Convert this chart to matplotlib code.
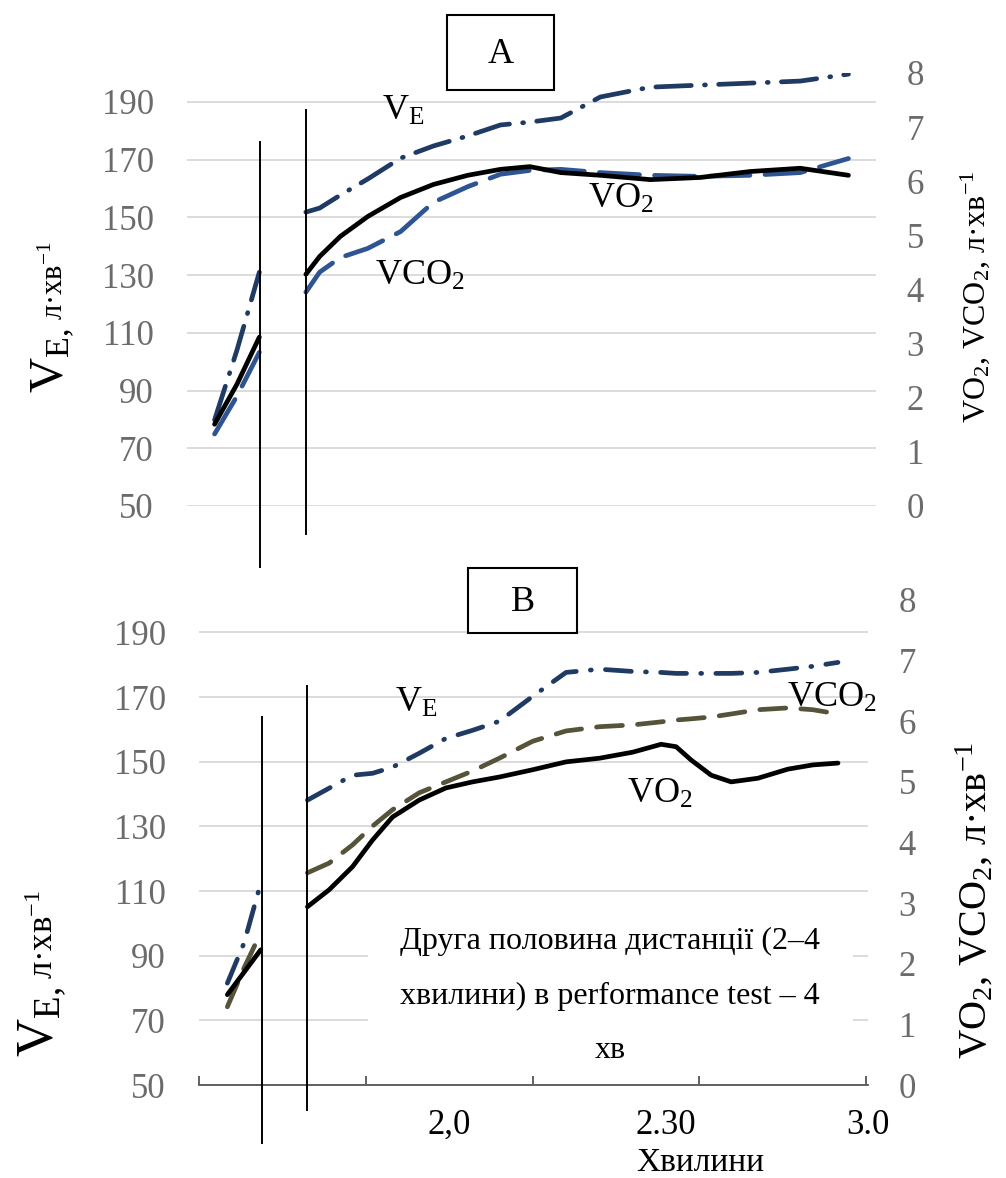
import matplotlib
matplotlib.use('Agg')
import matplotlib.pyplot as plt
from matplotlib.lines import Line2D
from matplotlib.patches import Rectangle
import numpy as np

plt.rcParams['font.family'] = ['Liberation Serif', 'DejaVu Serif']
plt.rcParams['mathtext.fontset'] = 'custom'
plt.rcParams['mathtext.rm'] = 'Liberation Serif'

# ---- data: x in axis category units (0..4), before and after the axis break ----
# panel A
a_t1 = [0.16, 0.29, 0.42]
a_ve1 = [79.8, 104.0, 131.0]
a_vo1 = [1.51, 2.25, 3.12]
a_vco1 = [1.33, 2.03, 2.84]
a_t2 = [0.69, 0.77, 0.89, 1.05, 1.24, 1.43, 1.63, 1.82, 1.99, 2.17, 2.40, 2.69, 2.98, 3.27, 3.56, 3.84]
a_ve2 = [151.8, 153.2, 157.7, 163.3, 170.5, 174.7, 178.2, 182.0, 183.0, 184.4, 191.7, 195.1, 195.8, 196.5, 197.2, 199.6]
a_vo2 = [4.28, 4.61, 4.98, 5.35, 5.70, 5.94, 6.11, 6.22, 6.27, 6.16, 6.11, 6.03, 6.07, 6.18, 6.24, 6.11]
a_vco2 = [3.95, 4.32, 4.59, 4.76, 5.07, 5.61, 5.90, 6.13, 6.20, 6.22, 6.16, 6.11, 6.09, 6.11, 6.16, 6.42]

# panel B
b_t1 = [0.17, 0.27, 0.37]
b_ve1 = [81.5, 93.9, 112.4]
b_vo1 = [1.49, 1.86, 2.23]
b_vco1 = [1.29, 1.93, 2.51]
b_t2 = [0.65, 0.78, 0.92, 1.04, 1.16, 1.32, 1.48, 1.64, 1.80, 2.00, 2.20,
        2.40, 2.60, 2.77, 2.86, 2.95, 3.07, 3.19, 3.35, 3.53, 3.68, 3.83]
b_ve2 = [138.1, 141.8, 145.8, 146.4, 148.3, 152.6, 157.2, 159.7, 162.5, 170.2, 177.6,
         178.6, 177.9, 177.6, 177.3, 177.3, 177.3, 177.3, 177.6, 178.6, 179.5, 180.7]
b_vo2 = [2.94, 3.22, 3.60, 4.04, 4.42, 4.70, 4.90, 5.00, 5.08, 5.20, 5.33,
         5.39, 5.49, 5.62, 5.58, 5.36, 5.11, 5.00, 5.06, 5.21, 5.28, 5.31]
b_vco2 = [3.50, 3.66, 3.96, 4.27, 4.54, 4.82, 5.00, 5.18, 5.39, 5.67, 5.84,
          5.91, 5.94, 5.99, 6.02, 6.04, 6.07, 6.12, 6.19, 6.22, 6.19, 6.12]

left_ticks = [50, 70, 90, 110, 130, 150, 170, 190]
right_ticks = [0, 1, 2, 3, 4, 5, 6, 7, 8]
x_label_pos = [1.50, 2.80, 4.01]
x_labels = ['2,0', '2.30', '3.0']

W, H = 1006, 1178
fig = plt.figure(figsize=(W / 100, H / 100), dpi=100)


def fx(px):
    return px / W


def fy(py):
    return 1 - py / H


def join(s1, s2):
    return np.concatenate([s1, [np.nan], s2])


NAVY = '#1F3A63'
BLUE = '#2E5591'
OLIVE = '#56533A'
GRAY = '#6B6B6B'
LW = 3.4


def panel(rect, t1, ve1, vo1, vco1, t2, ve2, vo2, vco2, vco_color, vco_dash, ve_dash):
    ax = fig.add_axes(rect)
    ax2 = ax.twinx()
    ax.set_xlim(0, 4)
    ax.set_ylim(50, 200)
    ax2.set_ylim(0, 8)
    ax.set_yticks(left_ticks)
    ax2.set_yticks(right_ticks)
    ax.grid(axis='y', color='#D9D9D9', lw=1.3)
    ax.set_axisbelow(True)
    for a in (ax, ax2):
        for s in a.spines.values():
            s.set_visible(False)
    ax.tick_params(axis='y', length=0, pad=24, labelsize=25, labelcolor=GRAY)
    ax2.tick_params(axis='y', length=0, pad=22, labelsize=25, labelcolor=GRAY)
    t = join(t1, t2)
    ax.plot(t, join(ve1, ve2), color=NAVY, lw=LW, linestyle=(0, ve_dash),
            dash_capstyle='round', solid_capstyle='round')
    ax2.plot(t, join(vco1, vco2), color=vco_color, lw=LW, linestyle=(0, vco_dash),
             dash_capstyle='round')
    ax2.plot(t, join(vo1, vo2), color='black', lw=LW, solid_capstyle='round',
             solid_joinstyle='round')
    return ax, ax2


# panel A
axA, axA2 = panel([fx(187), fy(506), fx(876 - 187), (506 - 73) / H],
                  a_t1, a_ve1, a_vo1, a_vco1, a_t2, a_ve2, a_vo2, a_vco2,
                  BLUE, (8.5, 3.2), (7.5, 2.8, 0.2, 2.8))
axA.set_xticks([])

# panel B
axB, axB2 = panel([fx(199), fy(1085), fx(868 - 199), (1085 - 600) / H],
                  b_t1, b_ve1, b_vo1, b_vco1, b_t2, b_ve2, b_vo2, b_vco2,
                  OLIVE, (5.5, 3.2), (5.5, 3, 0.2, 3))
axB.spines['bottom'].set_visible(True)
axB.spines['bottom'].set_color('#555555')
axB.spines['bottom'].set_linewidth(1.3)
axB.set_xticks([0, 1, 2, 3, 4])
axB.set_xticklabels([])
axB.set_xticks(x_label_pos, minor=True)
axB.set_xticklabels(x_labels, minor=True)
axB.tick_params(axis='x', which='major', direction='in', length=6.5, width=1.3, color='#555555')
axB.tick_params(axis='x', which='minor', length=0, pad=17, labelsize=25, labelcolor='black')

# note in panel B, on a white box that hides the grid behind it
fig.add_artist(Rectangle((fx(368), fy(1072)), fx(853 - 368), (1072 - 905) / H,
                         facecolor='white', edgecolor='none', zorder=3))
fig.text(fx(610), fy(996), 'Друга половина дистанції (2–4\nхвилини) в performance test – 4\nхв',
         fontsize=23, ha='center', va='center', multialignment='center', linespacing=2.15,
         zorder=4)

fig.text(fx(700), fy(1171), 'Хвилини', fontsize=24, ha='center', va='baseline')

# axis break marks
for x, y0, y1 in [(260, 142, 567), (306, 110, 534), (262, 717, 1143), (307, 686, 1110)]:
    fig.add_artist(Line2D([fx(x), fx(x)], [fy(y0), fy(y1)], color='black', lw=1.4))

# panel letters in boxes
for x0, y0, x1, y1, s in [(447, 15, 554, 90, 'A'), (468, 568, 577, 633, 'B')]:
    fig.add_artist(Rectangle((fx(x0), fy(y1)), fx(x1 - x0), (y1 - y0) / H,
                             facecolor='white', edgecolor='black', lw=1.5, zorder=5))
    fig.text(fx((x0 + x1) / 2), fy((y0 + y1) / 2 + 2), s, fontsize=26,
             ha='center', va='center', zorder=6)

# series labels
for x, y, s in [(382, 120, r'$\mathregular{V_E}$'), (375, 285, r'$\mathregular{VCO_2}$'),
                (588, 208, r'$\mathregular{VO_2}$'),
                (395, 712, r'$\mathregular{V_E}$'), (627, 803, r'$\mathregular{VO_2}$'),
                (787, 707, r'$\mathregular{VCO_2}$')]:
    fig.text(fx(x), fy(y), s, fontsize=26, ha='left', va='baseline', zorder=6)

# right axis titles
right_title = r'$\mathregular{VO_2}$, $\mathregular{VCO_2}$, л·хв$\mathregular{^{-1}}$'
fig.text(fx(975), fy(297), right_title, fontsize=23, rotation=90, ha='center', va='center')
fig.text(fx(975), fy(900), right_title, fontsize=29, rotation=90, ha='center', va='center')

# left axis titles: big V_E plus smaller units
fig.canvas.draw()
for x, y, big, small in [(63, 393, 35, 22), (53, 1057, 38, 25)]:
    t1 = fig.text(fx(x), fy(y), r'$\mathregular{V_{E,}}$', fontsize=big, rotation=90,
                  rotation_mode='anchor', ha='left', va='baseline')
    fig.canvas.draw()
    bb = t1.get_window_extent()
    fig.text(fx(x), (bb.y1 + 8) / H, r'л·хв$\mathregular{^{-1}}$', fontsize=small, rotation=90,
             rotation_mode='anchor', ha='left', va='baseline')

fig.savefig('out.png', dpi=100)
